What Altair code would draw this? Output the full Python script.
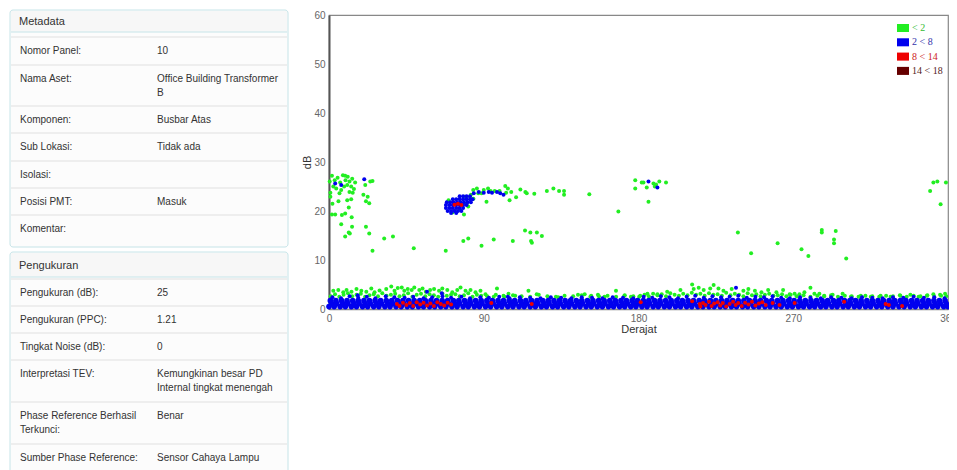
import altair as alt
import pandas as pd

# ---------------- chart values ----------------
categories = ["< 2", "2 < 8", "8 < 14", "14 < 18"]
point_colors = ["#22ee22", "#0000ee", "#ee0000", "#660000"]
legend_text_colors = ["#33bb33", "#3333aa", "#cc2222", "#552222"]

x_ticks = [0, 90, 180, 270, 360]
y_ticks = [0, 10, 20, 30, 40, 50, 60]

# (degree, dB) points of the "< 2" class away from the noise floor
green_upper = [
    (0.4, 26.0), (1.7, 27.2), (3.3, 26.3), (0.8, 23.7), (0.8, 22.9), (1.7, 19.3), (3.6, 19.3), (7.1, 24.3),
    (6.1, 23.6), (8.1, 27.3), (9.4, 27.2), (10.9, 27.0), (9.6, 26.3), (11.9, 26.0), (10.6, 25.3), (12.9, 25.0),
    (11.9, 23.9), (13.8, 23.7), (10.6, 22.2), (12.9, 22.4), (11.5, 20.7), (7.5, 19.2), (9.4, 19.5), (7.1, 17.3),
    (13.2, 18.7), (11.5, 15.6), (9.4, 14.8), (13.4, 16.8), (21.1, 25.3), (20.0, 23.3), (22.5, 22.9), (24.0, 26.0),
    (25.3, 26.1), (21.5, 22.0), (23.4, 21.6), (21.5, 16.8), (23.4, 15.4), (25.3, 11.9), (32.1, 14.4), (37.2, 14.8),
    (49.3, 12.4), (67.9, 11.9), (2.5, 25.0), (5.0, 26.8), (4.2, 24.6), (6.5, 25.8), (8.8, 25.0), (13.5, 26.6),
    (2.0, 21.5), (5.5, 22.0), (15.2, 25.8), (14.5, 24.5), (12.1, 15.4),
    (69.5, 22.2), (71.8, 19.7), (78.5, 19.3), (81.0, 20.9), (82.0, 22.9), (82.5, 23.3), (83.9, 24.3), (86.8, 23.6),
    (88.7, 23.6), (91.6, 21.9), (94.0, 24.1), (96.4, 24.1), (99.2, 24.1), (102.5, 25.1), (104.0, 24.6), (103.0, 23.7),
    (106.0, 23.9), (105.0, 22.2), (108.8, 22.8), (111.3, 24.4), (114.2, 23.9), (115.0, 23.6), (119.4, 23.5),
    (126.7, 24.1), (130.5, 24.6), (133.8, 24.1), (136.7, 24.1), (136.7, 23.3), (151.4, 23.4), (168.3, 19.9),
    (80.0, 21.5), (84.0, 22.5), (86.0, 24.6), (90.0, 24.3), (92.5, 24.6), (76.0, 20.2), (73.0, 20.0), (79.0, 22.9),
    (78.1, 13.9), (81.0, 14.4), (88.7, 12.9), (95.8, 14.2), (106.9, 13.9), (114.0, 16.0), (117.1, 15.6),
    (117.5, 13.9), (118.0, 13.5), (120.9, 15.6), (123.8, 14.9),
    (178.1, 26.3), (178.1, 24.6), (181.9, 25.8), (182.9, 25.8), (184.8, 24.8), (185.8, 21.9), (188.7, 25.6),
    (190.2, 25.4), (192.1, 26.0), (196.0, 25.8), (189.5, 25.0),
    (237.8, 15.6), (245.5, 11.4), (260.9, 13.4), (274.8, 12.2), (278.8, 10.8), (286.6, 16.1), (286.6, 15.6),
    (293.7, 14.2), (293.7, 13.4), (294.7, 15.9), (300.8, 10.3),
    (349.6, 24.1), (351.5, 25.8), (353.8, 26.0), (355.7, 21.4), (358.8, 25.8),
]

# "< 2" points sitting just above the noise floor (higher fringe)
green_fringe_high = [
    (2.5, 3.7), (5.4, 3.9), (8.3, 3.4), (10.2, 3.9), (13.1, 3.5), (16.0, 4.1), (18.8, 3.7), (21.7, 3.5),
    (24.6, 4.2), (26.5, 3.4), (29.4, 3.8), (33.3, 4.1), (36.2, 4.6), (38.1, 3.7), (40.0, 4.3), (42.3, 4.4),
    (43.8, 3.7), (45.8, 4.1), (48.1, 3.9), (49.6, 4.4), (52.5, 3.9), (54.4, 4.2), (56.3, 3.5), (58.8, 3.9),
    (61.1, 4.1), (64.0, 3.7), (65.9, 4.2), (68.8, 3.9), (71.7, 3.4), (74.6, 3.9), (76.5, 4.4), (79.4, 3.7),
    (82.3, 3.9), (85.2, 3.4), (88.1, 3.7),
    (91.0, 3.0), (95.8, 2.5), (97.7, 4.2), (101.5, 2.7), (104.4, 3.1), (108.3, 2.7), (116.0, 3.7), (120.8, 3.0),
    (133.3, 2.4), (144.8, 2.9), (148.7, 3.0), (152.5, 2.7), (156.4, 2.9), (160.2, 2.5), (166.9, 3.7),
    (171.8, 2.7), (175.6, 2.5),
    (180.4, 2.5), (185.2, 3.1), (191.0, 3.0), (196.7, 3.5), (204.4, 3.9), (211.2, 5.0), (212.1, 4.1),
    (215.0, 4.35), (217.9, 3.9), (221.7, 4.2), (223.7, 4.9), (226.5, 4.2), (229.4, 3.7), (234.2, 4.1),
    (241.0, 3.7), (243.9, 4.1), (247.7, 3.7), (251.5, 3.4), (255.4, 3.9), (260.2, 3.4), (264.1, 3.9),
    (267.9, 3.0),
    (270.8, 3.1), (273.6, 3.0), (276.5, 3.4), (280.0, 4.35), (282.3, 3.1), (285.2, 3.1), (288.0, 2.7),
    (292.9, 2.9), (298.7, 3.1), (303.5, 2.5), (309.3, 2.7), (315.1, 2.5), (320.8, 2.7), (326.6, 2.5),
    (332.3, 2.7), (338.1, 2.9), (342.9, 2.5), (347.7, 2.7), (351.5, 3.0), (355.4, 2.9), (358.3, 3.1),
]

# "< 2" points peeking just above the blue floor (lower fringe)
green_fringe_low_deg = [
    1, 3.5, 6, 8.5, 11, 13.5, 16, 18.5, 21, 23.5, 26, 28.5, 31, 33.5, 36, 38.5, 41, 43.5, 46, 48.5, 51, 53.5,
    56, 58.5, 61, 63.5, 66, 68.5, 71, 73.5, 76, 78.5, 81, 83.5, 86, 88.5,
    92, 97, 102, 107, 112, 117, 122, 127, 132, 137, 142, 147, 152, 157, 162, 167, 172, 177,
    181, 183.5, 186, 188.5, 191, 193.5, 196, 198.5, 201, 203.5, 206, 208.5, 211, 213.5, 216, 218.5, 221,
    223.5, 226, 228.5, 231, 233.5, 236, 238.5, 241, 243.5, 246, 248.5, 251, 253.5, 256, 258.5, 261, 263.5,
    266, 268.5,
    272, 276, 280, 284, 288, 292, 296, 300, 304, 308, 312, 316, 320, 324, 328, 332, 336, 340, 344, 348, 352,
    356, 359,
]
green_fringe_low_db = [
    2.6, 3.0, 2.5, 2.9, 3.2, 2.6, 2.9, 3.1, 2.5, 2.8, 3.0, 2.6, 3.2, 2.7, 2.9, 3.1, 2.6, 2.8, 3.2, 2.5, 2.9, 3.1,
    2.6, 3.0, 2.8, 2.5, 3.1, 2.7, 2.9, 3.0, 2.6, 2.8, 3.2, 2.5, 2.9, 2.7,
    2.6, 2.9, 2.5, 2.8, 2.6, 2.5, 2.9, 2.6, 2.5, 2.7, 2.6, 2.8, 2.5, 2.6, 2.7, 2.5, 2.8, 2.6,
    2.7, 2.9, 2.6, 3.1, 2.8, 3.0, 2.6, 3.2, 2.9, 2.7, 3.1, 2.8, 3.3, 2.9, 3.1, 2.7, 3.2,
    2.9, 3.0, 2.7, 3.3, 2.8, 3.1, 2.9, 2.6, 3.2, 2.8, 3.0, 2.6, 2.9, 3.1, 2.7, 2.8, 3.0,
    2.6, 2.9,
    2.6, 2.8, 2.5, 2.7, 2.6, 2.8, 2.5, 2.7, 2.6, 2.5, 2.7, 2.6, 2.5, 2.7, 2.6, 2.8, 2.5, 2.7, 2.6, 2.8, 2.5,
    2.7, 2.6,
]

# dense "2 < 8" noise floor: three strips of points (degrees) at these dB levels
blue_band_levels = [0.5, 1.1, 1.7]
blue_band_low = [
    0, 3, 6.5, 9.5, 13, 16, 19.5, 22.5, 26, 29, 32.5, 35.5, 39, 42, 45.5, 48.5, 52, 55, 58.5, 61.5, 65, 68,
    71.5, 74.5, 78, 81, 84.5, 87.5, 91, 94, 97.5, 100.5, 104, 107, 110.5, 113.5, 117, 120, 123.5, 126.5, 130,
    133, 136.5, 139.5, 143, 146, 149.5, 152.5, 156, 159, 162.5, 165.5, 169, 172, 175.5, 178.5, 182, 185,
    188.5, 191.5, 195, 198, 201.5, 204.5, 208, 211, 214.5, 217.5, 221, 224, 227.5, 230.5, 234, 237, 240.5,
    243.5, 247, 250, 253.5, 256.5, 260, 263, 266.5, 269.5, 273, 276, 279.5, 282.5, 286, 289, 292.5, 295.5,
    299, 302, 305.5, 308.5, 312, 315, 318.5, 321.5, 325, 328, 331.5, 334.5, 338, 341, 344.5, 347.5, 351, 354,
    357.5, 360,
]
blue_band_mid = [
    1.5, 4.5, 8, 11, 14.5, 17.5, 21, 24, 27.5, 30.5, 34, 37, 40.5, 43.5, 47, 50, 53.5, 56.5, 60, 63, 66.5,
    69.5, 73, 76, 79.5, 82.5, 86, 89, 92.5, 95.5, 99, 102, 105.5, 108.5, 112, 115, 118.5, 121.5, 125, 128,
    131.5, 134.5, 138, 141, 144.5, 147.5, 151, 154, 157.5, 160.5, 164, 167, 170.5, 173.5, 177, 180, 183.5,
    186.5, 190, 193, 196.5, 199.5, 203, 206, 209.5, 212.5, 216, 219, 222.5, 225.5, 229, 232, 235.5, 238.5,
    242, 245, 248.5, 251.5, 255, 258, 261.5, 264.5, 268, 271, 274.5, 277.5, 281, 284, 287.5, 290.5, 294, 297,
    300.5, 303.5, 307, 310, 313.5, 316.5, 320, 323, 326.5, 329.5, 333, 336, 339.5, 342.5, 346, 349, 352.5,
    355.5, 359,
]
blue_band_top = [
    0.8, 4, 7.3, 10.5, 13.8, 17, 20.3, 23.5, 26.8, 30, 33.3, 36.5, 39.8, 43, 46.3, 49.5, 52.8, 56, 59.3, 62.5,
    65.8, 69, 72.3, 75.5, 78.8, 82, 85.3, 88.5, 91.8, 95, 98.3, 101.5, 104.8, 108, 111.3, 114.5, 117.8, 121,
    124.3, 127.5, 130.8, 134, 137.3, 140.5, 143.8, 147, 150.3, 153.5, 156.8, 160, 163.3, 166.5, 169.8, 173,
    176.3, 179.5, 182.8, 186, 189.3, 192.5, 195.8, 199, 202.3, 205.5, 208.8, 212, 215.3, 218.5, 221.8, 225,
    228.3, 231.5, 234.8, 238, 241.3, 244.5, 247.8, 251, 254.3, 257.5, 260.8, 264, 267.3, 270.5, 273.8, 277,
    280.3, 283.5, 286.8, 290, 293.3, 296.5, 299.8, 303, 306.3, 309.5, 312.8, 316, 319.3, 322.5, 325.8, 329,
    332.3, 335.5, 338.8, 342, 345.3, 348.5, 351.8, 355, 358.3,
]

# ragged top edge of the "2 < 8" floor
blue_edge_deg = [
    2, 7, 12, 17, 22, 27, 33, 38, 44, 49, 55, 60, 66, 71, 77, 82, 88, 93, 99, 105, 111, 117, 123, 129, 135,
    141, 147, 153, 159, 165, 171, 177, 183, 188, 193, 198, 203, 208, 213, 218, 223, 228, 233, 238, 243, 248,
    253, 258, 263, 268, 274, 280, 286, 292, 298, 304, 310, 316, 322, 328, 334, 340, 346, 352, 358,
]
blue_edge_db = [
    2.4, 2.2, 2.6, 2.3, 2.5, 2.2, 2.6, 2.4, 2.3, 2.5, 2.2, 2.4, 2.6, 2.3, 2.5, 2.2, 2.4, 2.3, 2.5, 2.2, 2.4,
    2.3, 2.2, 2.4, 2.3, 2.2, 2.4, 2.3, 2.2, 2.4, 2.3, 2.2, 2.5, 2.3, 2.6, 2.4, 2.2, 2.5, 2.7, 2.3, 2.6, 2.4,
    2.5, 2.7, 2.3, 2.5, 2.4, 2.6, 2.3, 2.2, 2.4, 2.3, 2.2, 2.4, 2.3, 2.2, 2.4, 2.3, 2.2, 2.4, 2.3, 2.5, 2.3,
    2.4, 2.2,
]

# "2 < 8" cluster near 75 degrees / 21 dB and isolated points
blue_upper = [
    (76, 23.0), (78, 23.0), (80, 23.0), (82, 23.0),
    (72, 22.4), (74, 22.4), (76, 22.4), (78, 22.4), (80, 22.4), (82, 22.4), (83.5, 22.4),
    (68.5, 21.8), (70.5, 21.8), (72.5, 21.8), (74.5, 21.8), (76.5, 21.8), (78.5, 21.8), (80.5, 21.8), (82.5, 21.8),
    (68, 21.2), (70, 21.2), (72, 21.2), (74, 21.2), (76, 21.2), (78, 21.2), (80, 21.2),
    (68, 20.6), (70, 20.6), (72, 20.6), (74, 20.6), (76, 20.6), (78, 20.6),
    (69, 20.0), (71, 20.0), (73, 20.0), (75, 20.0), (77, 20.0),
    (71, 19.6), (74, 19.6),
    (84.2, 23.6), (87.1, 23.9), (90.0, 23.7), (92.9, 23.9), (94.8, 23.7), (97.7, 23.9), (99.6, 23.6), (101.5, 23.3),
    (3.6, 25.6), (7.1, 25.3), (20.5, 26.5), (185.8, 26.0), (191.0, 24.8),
    (16.7, 2.8), (57.0, 3.5), (65.6, 3.2), (104.0, 2.5), (236.7, 4.35),
]

red_deg = [
    39.5, 41, 43, 45, 47, 49, 51, 53, 55, 57, 59, 61, 63, 65, 67, 69, 71,
    73, 75, 77,
    94.4, 117.9,
    181.3, 211.2, 215.6,
    216, 217.5, 219, 221, 222.5, 224, 226, 227.5, 229, 231, 233, 235, 236.5, 238, 240, 242, 244, 246, 248,
    250, 252, 254,
    258, 262, 270.8, 299.6, 323.7, 325.6, 333.3,
]
red_db = [
    1.0, 0.6, 1.3, 0.8, 1.2, 0.6, 1.4, 0.9, 1.3, 0.7, 1.1, 0.6, 1.4, 1.0, 0.7, 1.3, 0.9,
    21.3, 21.5, 21.2,
    1.2, 1.0,
    1.4, 1.6, 1.0,
    0.5, 1.2, 0.8, 1.5, 0.6, 1.1, 1.4, 0.7, 1.2, 0.5, 1.0, 1.5, 0.8, 1.2, 0.6, 1.3, 0.9, 1.5, 0.7,
    1.1, 1.4, 0.8,
    1.2, 0.8, 1.2, 1.5, 1.0, 0.8, 0.6,
]

# ---------------- side tables (text) ----------------
panel_titles = ["Metadata", "Pengukuran"]
meta_labels = ["Nomor Panel:", "Nama Aset:", "Komponen:", "Sub Lokasi:", "Isolasi:", "Posisi PMT:", "Komentar:"]
meta_values = ["10", "Office Building Transformer\nB", "Busbar Atas", "Tidak ada", "", "Masuk", ""]
meas_labels = ["Pengukuran (dB):", "Pengukuran (PPC):", "Tingkat Noise (dB):", "Interpretasi TEV:",
               "Phase Reference Berhasil\nTerkunci:", "Sumber Phase Reference:"]
meas_values = ["25", "1.21", "0", "Kemungkinan besar PD\nInternal tingkat menengah", "Benar",
               "Sensor Cahaya Lampu"]

# ---------------- layout (page pixels) ----------------
PAGE_MARGIN = 8
SVG_W, SVG_H = 941, 462
PLOT_L, PLOT_T = 329, 15
W, H = 619, 294
PLOT_R, PLOT_B = PLOT_L + W, PLOT_T + H
pad_left, pad_top = PLOT_L - PAGE_MARGIN, PLOT_T - PAGE_MARGIN
pad_right = SVG_W - pad_left - W
pad_bottom = SVG_H - pad_top - H

panel_left, panel_right = 10, 288
label_x, value_x, header_x = 20, 157, 19
panel_tops = [10, 252]
panel_bottoms = [247, 482]
header_bottoms = [32, 277]
first_row_tops = [37, 279]
row_heights = [[28, 41, 27, 28, 27, 27, 27], [27, 27, 27, 42, 42, 27]]

FONT = "Liberation Sans"

# ---------------- build tables ----------------
def pairs_df(pairs, cat):
    return pd.DataFrame({"deg": [p[0] for p in pairs], "db": [p[1] for p in pairs], "cat": cat})

def lists_df(degs, dbs, cat):
    assert len(degs) == len(dbs)
    return pd.DataFrame({"deg": degs, "db": dbs, "cat": cat})

green_df = pd.concat([
    pairs_df(green_upper, categories[0]),
    pairs_df(green_fringe_high, categories[0]),
    lists_df(green_fringe_low_deg, green_fringe_low_db, categories[0]),
], ignore_index=True)
band_df = pd.concat([
    pd.DataFrame({"deg": row, "db": lvl, "cat": categories[1]})
    for row, lvl in zip([blue_band_low, blue_band_mid, blue_band_top], blue_band_levels)
], ignore_index=True)
blue_df = pd.concat([
    lists_df(blue_edge_deg, blue_edge_db, categories[1]),
    pairs_df(blue_upper, categories[1]),
], ignore_index=True)
red_df = lists_df(red_deg, red_db, categories[2])

rects, heads, rules, head_rules, texts, head_texts = [], [], [], [], [], []
for p, (title, labels, values) in enumerate(zip(panel_titles, [meta_labels, meas_labels], [meta_values, meas_values])):
    rects.append(dict(x1=panel_left, x2=panel_right, y1=panel_tops[p], y2=panel_bottoms[p]))
    heads.append(dict(x1=panel_left + 1, x2=panel_right - 1, y1=panel_tops[p] + 1, y2=header_bottoms[p]))
    head_rules.append(dict(x1=panel_left + 1, x2=panel_right - 1, y=header_bottoms[p]))
    mid = (panel_tops[p] + header_bottoms[p]) / 2 + 0.5
    head_texts.append(dict(x=header_x, y=mid - 5.3, txt=title))
    top = first_row_tops[p]
    for lab, val, h in zip(labels, values, row_heights[p]):
        rules.append(dict(x1=panel_left + 1, x2=panel_right - 1, y=top))
        texts.append(dict(x=label_x, y=top + 8.5, txt=lab))
        texts.append(dict(x=value_x, y=top + 8.5, txt=val))
        top += h

SX = alt.Scale(domain=[PLOT_L, PLOT_R], nice=False, zero=False)
SY = alt.Scale(domain=[PLOT_T, PLOT_B], nice=False, zero=False, reverse=True)

def tx(f):
    return alt.X(f, type="quantitative", scale=SX, axis=None)

def ty(f):
    return alt.Y(f, type="quantitative", scale=SY, axis=None)

panel_layer = alt.Chart(pd.DataFrame(rects)).mark_rect(
    fill="#fcfcfc", stroke="#c6e4e8", strokeWidth=1, cornerRadius=3
).encode(x=tx("x1"), x2="x2:Q", y=ty("y1"), y2="y2:Q")
head_layer = alt.Chart(pd.DataFrame(heads)).mark_rect(fill="#f7f7f7").encode(
    x=tx("x1"), x2="x2:Q", y=ty("y1"), y2="y2:Q")
row_rule_layer = alt.Chart(pd.DataFrame(rules)).mark_rule(color="#e0e0e0", strokeWidth=1).encode(
    x=tx("x1"), x2="x2:Q", y=ty("y"))
head_rule_layer = alt.Chart(pd.DataFrame(head_rules)).mark_rule(color="#c6e4e8", strokeWidth=1).encode(
    x=tx("x1"), x2="x2:Q", y=ty("y"))
text_layer = alt.Chart(pd.DataFrame(texts)).mark_text(
    align="left", baseline="top", font=FONT, fontSize=10, color="#333333", lineBreak="\n", lineHeight=14.5
).encode(x=tx("x"), y=ty("y"), text="txt:N")
head_text_layer = alt.Chart(pd.DataFrame(head_texts)).mark_text(
    align="left", baseline="top", font=FONT, fontSize=11, color="#333333"
).encode(x=tx("x"), y=ty("y"), text="txt:N")

table = alt.layer(panel_layer, head_layer, row_rule_layer, head_rule_layer, text_layer, head_text_layer)

# ---------------- scatter ----------------
label_color_expr = " : ".join(
    f"datum.label === '{c}' ? '{col}'" for c, col in zip(categories[:-1], legend_text_colors[:-1])
) + f" : '{legend_text_colors[-1]}'"

X = alt.X("deg:Q", scale=alt.Scale(domain=[0, 360], nice=False, zero=False),
          axis=alt.Axis(values=x_ticks, title="Derajat", labelFlush=False, ticks=False, labelPadding=4,
                        titlePadding=0, domainColor="#888888", domainWidth=1.5))
Y = alt.Y("db:Q", scale=alt.Scale(domain=[0, 60], nice=False),
          axis=alt.Axis(values=y_ticks, title="dB", labelFlush=False, ticks=False, labelPadding=4,
                        titlePadding=1, domainColor="#555555", domainWidth=2))
C = alt.Color("cat:N", scale=alt.Scale(domain=categories, range=point_colors),
              legend=alt.Legend(title=None, orient="none", legendX=W - 51, legendY=7, padding=0,
                                symbolType="M-1,-0.67L1,-0.67L1,0.67L-1,0.67Z", symbolSize=144,
                                symbolStrokeWidth=0, symbolOpacity=1, labelFont="Liberation Serif",
                                labelFontSize=10, labelOffset=3, rowPadding=3.3,
                                labelColor={"expr": label_color_expr}))

def pts(df, size):
    return alt.Chart(df).mark_circle(size=size, opacity=1).encode(x=X, y=Y, color=C)

scatter = alt.layer(pts(green_df, 16), pts(band_df, 32), pts(blue_df, 16), pts(red_df, 16))

chart = alt.layer(table, scatter).resolve_scale(x="independent", y="independent").properties(
    width=W, height=H,
    autosize=alt.AutoSizeParams(type="none"),
    padding={"left": pad_left, "top": pad_top, "right": pad_right, "bottom": pad_bottom},
    background="white",
).configure_view(stroke="#888888", strokeWidth=1.2).configure_axis(
    grid=True, gridColor="#dddddd", gridWidth=1, labelFont=FONT, labelFontSize=10, labelColor="#666666",
    titleFont=FONT, titleFontSize=11, titleColor="#333333", titleFontWeight="normal"
)

chart.save("out.html", embed_options={"renderer": "svg", "actions": False})
